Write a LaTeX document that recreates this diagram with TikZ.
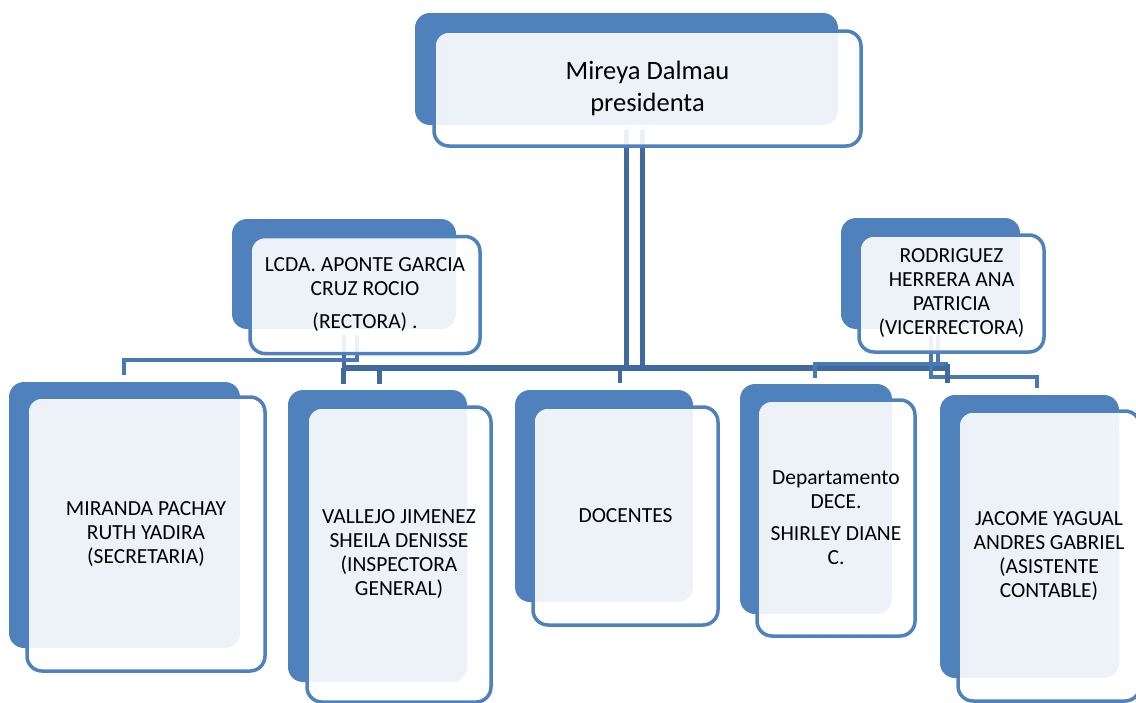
\documentclass[tikz,border=0pt]{standalone}
\usepackage{fontspec}
\setmainfont{Carlito}
\usetikzlibrary{positioning}
\usetikzlibrary{backgrounds}
\usetikzlibrary{calc}

\definecolor{cardblue}{RGB}{79,129,189}
\definecolor{linkblue}{RGB}{64,106,158}
\definecolor{sublinkblue}{RGB}{74,120,178}

\tikzset{
    cardback/.style={fill=cardblue, rounded corners=15pt, inner sep=0pt},
    cardfront/.style={draw=cardblue, line width=3.5pt, fill=white, fill opacity=0.9,
        text opacity=1, rounded corners=15pt, align=center, inner sep=0pt,
        font=\fontsize{21.5}{24}\selectfont},
    link/.style={draw=linkblue, line width=4.5pt},
    sublink/.style={draw=sublinkblue, line width=4pt}
}

\begin{document}
\begin{tikzpicture}[x=1pt,y=-1pt]
        \useasboundingbox (0,0) rectangle (1136,702);
        \clip (0,0) rectangle (1136,702);
        % top
        \node[cardback, minimum width=423pt, minimum height=112pt] (pres-b) at (626.5,69) {};
        \node[cardfront, minimum width=427pt, minimum height=115pt,
              font=\fontsize{26.5}{32}\selectfont] (pres) at (647.5,88.5) {Mireya Dalmau\\presidenta};
        % second level
        \node[cardback, minimum width=224pt, minimum height=110pt] (rect-b) at (344,274) {};
        \node[cardfront, minimum width=230pt, minimum height=117pt] (rect) at (365,295)
            {LCDA. APONTE GARCIA\\CRUZ ROCIO\\[9pt](RECTORA) .};
        \node[cardback, minimum width=179pt, minimum height=111pt] (vice-b) at (930.5,273.5) {};
        \node[cardfront, minimum width=185pt, minimum height=117pt] (vice) at (951.5,293.5)
            {RODRIGUEZ\\HERRERA ANA\\PATRICIA\\(VICERRECTORA)};
        % third level
        \node[cardback, minimum width=231pt, minimum height=266pt] (mir-b) at (124.5,515) {};
        \node[cardfront, minimum width=238pt, minimum height=274pt] (mir) at (146,534)
            {MIRANDA PACHAY\\RUTH YADIRA\\(SECRETARIA)};
        \node[cardback, minimum width=179pt, minimum height=292pt] (vall-b) at (377.5,536) {};
        \node[cardfront, minimum width=184pt, minimum height=295pt] (vall) at (399,554.5)
            {VALLEJO JIMENEZ\\SHEILA DENISSE\\(INSPECTORA\\GENERAL)};
        \node[cardback, minimum width=178pt, minimum height=212pt] (doc-b) at (604,496) {};
        \node[cardfront, minimum width=185pt, minimum height=218pt] (doc) at (625.5,516) {DOCENTES};
        \node[cardback, minimum width=152pt, minimum height=230pt] (dep-b) at (816,499) {};
        \node[cardfront, minimum width=158pt, minimum height=236pt] (dep) at (836,518)
            {Departamento\\DECE.\\[8pt]SHIRLEY DIANE\\C.};
        \node[cardback, minimum width=179pt, minimum height=283pt] (jac-b) at (1029.5,536.5) {};
        \node[cardfront, minimum width=182pt, minimum height=290pt] (jac) at (1049,556)
            {JACOME YAGUAL\\ANDRES GABRIEL\\(ASISTENTE\\CONTABLE)};

        \coordinate (bus) at (0,368);
        \coordinate (rbus) at (0,360);
        \coordinate (vbus) at (0,364);
        \coordinate (vbus2) at (0,377);

        \begin{scope}[on background layer]
        % presidenta
        \draw[link] ([yshift=-5pt]pres-b.south) -- (pres-b.south |- bus);
        \draw[link] ([xshift=16pt,yshift=-5pt]pres-b.south) -- ([xshift=16pt]pres-b.south |- bus);
        \draw[link, line width=6pt] ([xshift=-2pt]rect-b.south |- bus) -- ([xshift=-82pt]jac-b.north |- bus);
        \draw[link] ([xshift=-34pt]vall-b.north |- bus) -- ([xshift=-34pt,yshift=6pt]vall-b.north);
        \draw[link] ([xshift=2pt]vall-b.north |- bus) -- ([xshift=2pt,yshift=6pt]vall-b.north);
        \draw[link] ([xshift=16pt]doc-b.north |- bus) -- ([xshift=16pt,yshift=7pt]doc-b.north);
        % rectora
        \draw[link] ([yshift=-6pt]rect-b.south) -- (rect-b.south |- bus);
        \draw[sublink] ([xshift=13pt,yshift=-6pt]rect-b.south) |- ([xshift=-1pt]mir-b.north |- rbus)
            -- ([xshift=-1pt,yshift=7pt]mir-b.north);
        % vicerrectora
        \draw[sublink] ([yshift=-6pt]vice-b.south) |- ([xshift=7pt]jac-b.north |- vbus2)
            -- ([xshift=7pt,yshift=7pt]jac-b.north);
        \draw[sublink] ([xshift=7pt,yshift=-6pt]vice-b.south) -- ([xshift=7pt]vice-b.south |- vbus);
        \draw[sublink] ([xshift=-1pt,yshift=6pt]dep-b.north) |- ([xshift=-82pt]jac-b.north |- vbus);
        \draw[link] ([xshift=-82pt]jac-b.north |- vbus) -- ([xshift=-82pt,yshift=12pt]jac-b.north);
        \end{scope}
    \end{tikzpicture}
\end{document}
